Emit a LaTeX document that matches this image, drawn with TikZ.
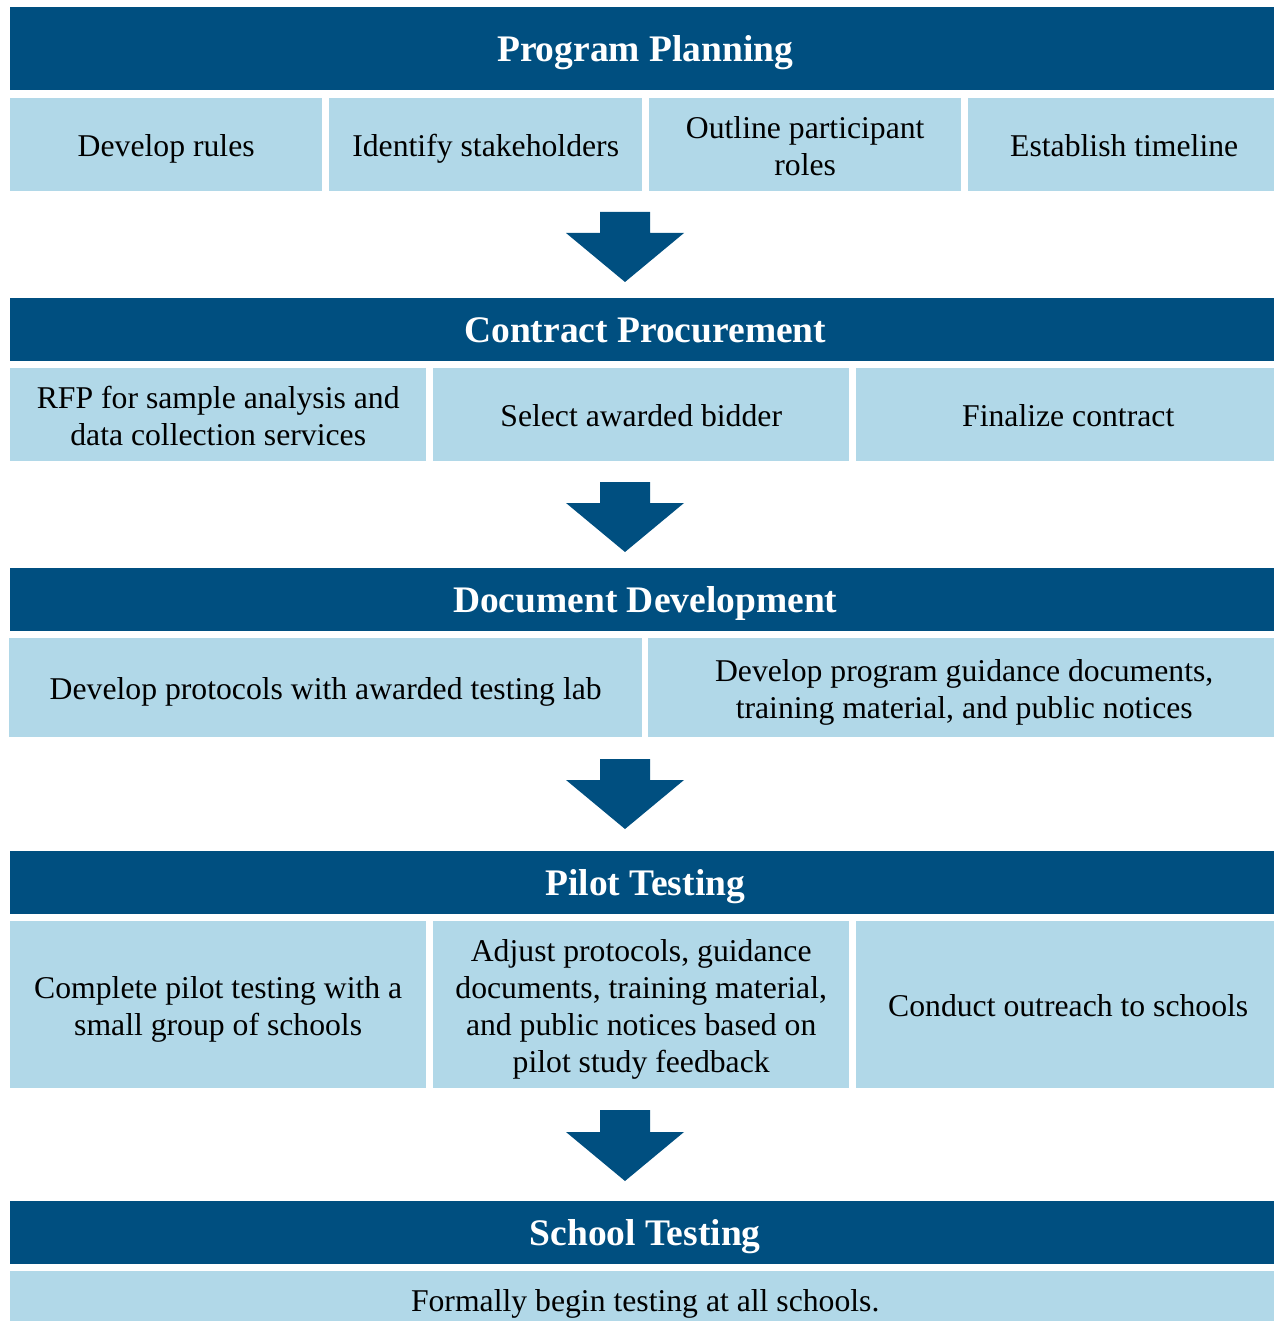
\documentclass[tikz,border=0pt]{standalone}
\usepackage{fontspec}
\setmainfont{Liberation Serif}
\definecolor{headblue}{RGB}{0,79,128}
\definecolor{tasklight}{RGB}{177,216,232}
\begin{document}
\begin{tikzpicture}[x=1pt,y=-1pt,
  stagehead/.style={fill=headblue,text=white,anchor=north west,inner sep=0pt,
    minimum width=1270pt,minimum height=63pt,text height=30pt,text depth=4pt,
    font=\bfseries\fontsize{37.5}{44}\selectfont},
  taskbox/.style={fill=tasklight,text=black,anchor=north west,inner sep=0pt,
    align=center,text height=28pt,text depth=3.5pt,
    font=\fontsize{31.7}{36.7}\selectfont},
  twolines/.style={text height=64.7pt},
  fourlines/.style={text height=138.1pt},
  flowarrow/.style={fill=headblue}]
\useasboundingbox (0,0) rectangle (1273,1321);

% block arrow between two stages: #1 top of shaft, #2 top of head, #3 tip
\newcommand{\stagearrow}[3]{%
  \fill[flowarrow] (600,#1) -- (650,#1) -- (650,#2) -- (684,#2) -- (625,#3)
    -- (566,#2) -- (600,#2) -- cycle;}

% Program Planning
\node[stagehead,minimum height=83pt] (plan) at (10,7) {Program Planning};
\node[taskbox,minimum width=312pt,minimum height=93pt] (plan1) at (10,98) {Develop rules};
\node[taskbox,minimum width=313pt,minimum height=93pt] (plan2) at (329,98) {Identify stakeholders};
\node[taskbox,twolines,minimum width=312pt,minimum height=93pt] (plan3) at (649,98) {Outline participant\\roles};
\node[taskbox,minimum width=312pt,minimum height=93pt] (plan4) at (968,98) {Establish timeline};
\stagearrow{212}{233}{282}

% Contract Procurement
\node[stagehead] (contract) at (10,298) {Contract Procurement};
\node[taskbox,twolines,minimum width=416pt,minimum height=93pt] (contract1) at (10,368) {RFP for sample analysis and\\data collection services};
\node[taskbox,minimum width=416pt,minimum height=93pt] (contract2) at (433,368) {Select awarded bidder};
\node[taskbox,minimum width=424pt,minimum height=93pt] (contract3) at (856,368) {Finalize contract};
\stagearrow{482}{503}{552}

% Document Development
\node[stagehead] (docs) at (10,568) {Document Development};
\node[taskbox,minimum width=633pt,minimum height=99pt] (docs1) at (9,638) {Develop protocols with awarded testing lab};
\node[taskbox,twolines,minimum width=632pt,minimum height=99pt] (docs2) at (648,638) {Develop program guidance documents,\\training material, and public notices};
\stagearrow{759}{780}{829}

% Pilot Testing
\node[stagehead] (pilot) at (10,851) {Pilot Testing};
\node[taskbox,twolines,minimum width=416pt,minimum height=167pt] (pilot1) at (10,921) {Complete pilot testing with a\\small group of schools};
\node[taskbox,fourlines,minimum width=416pt,minimum height=167pt] (pilot2) at (433,921) {Adjust protocols, guidance\\documents, training material,\\and public notices based on\\pilot study feedback};
\node[taskbox,minimum width=424pt,minimum height=167pt] (pilot3) at (856,921) {Conduct outreach to schools};
\stagearrow{1110}{1132}{1181}

% School Testing
\node[stagehead] (school) at (10,1201) {School Testing};
\node[taskbox,minimum width=1270pt,minimum height=57pt] (school1) at (10,1271) {Formally begin testing at all schools.};
\end{tikzpicture}
\end{document}
